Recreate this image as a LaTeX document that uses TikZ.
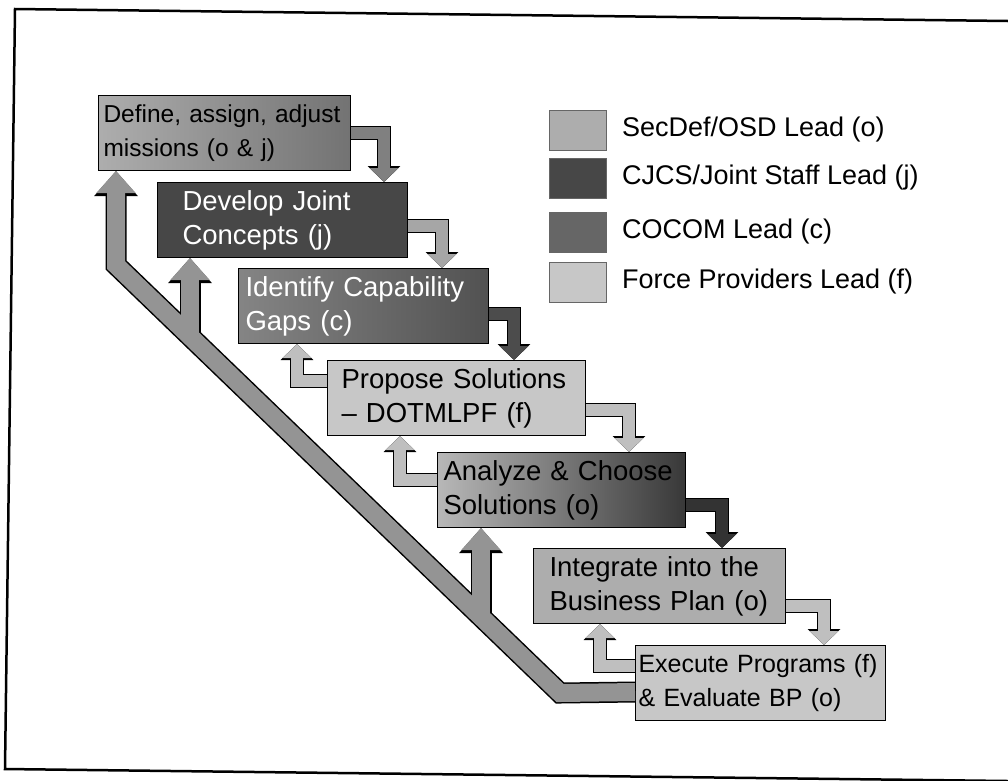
\documentclass[tikz,border=0pt]{standalone}
\usepackage{fontspec}
\setmainfont{Liberation Sans}
\usetikzlibrary{arrows.meta, positioning, calc}

\colorlet{osdgray}{black!32}
\colorlet{jsgray}{black!72}
\colorlet{cocomgray}{black!60}
\colorlet{fpgray}{black!22}

\newcommand{\stagefont}{\fontsize{27.5}{34}\selectfont}
\newcommand{\smallstagefont}{\fontsize{24.5}{34}\selectfont}
\newcommand{\midstagefont}{\fontsize{25}{34}\selectfont}
\newcommand{\keyfont}{\fontsize{27}{32}\selectfont}

\tikzset{
  stage/.style={draw=black, line width=1pt, anchor=north west, inner ysep=0pt,
    minimum height=75pt, align=left, font=\stagefont},
  swatch/.style={draw=black!60, line width=0.8pt, minimum width=57pt, minimum height=40pt},
  keylabel/.style={font=\keyfont, inner sep=0pt},
  flow/.style={draw=#1, line width=12pt, -{Triangle[width=28pt,length=14pt]},
    preaction={draw=black, line width=14.5pt, -{Triangle[width=32pt,length=16pt]}}},
  bandedge/.style={draw=black, line width=21pt, -{Triangle[width=42pt,length=25pt]}},
  bandfill/.style={draw=black!42, line width=18pt, -{Triangle[width=38pt,length=22pt]}},
}

\begin{document}
\begin{tikzpicture}[x=1pt, y=-1pt]
\useasboundingbox (0,0) rectangle (1008,780);

% frame of the scanned page
\draw[line width=2.5pt] (1008,21) -- (15,9) -- (5,769) -- (1008,781);

% stages
\node[stage, left color=osdgray, right color=black!55, text width=242pt, inner xsep=5pt,
  font=\smallstagefont] (define) at (98,95) {Define, assign, adjust\\missions (o \& j)};
\node[stage, fill=jsgray, text=white, text width=200pt, inner xsep=25pt]
  (develop) at (157,182) {Develop Joint\\Concepts (j)};
\node[stage, left color=black!48, right color=black!68, text=white, text width=236pt,
  inner xsep=7pt] (identify) at (238,268) {Identify Capability\\Gaps (c)};
\node[stage, fill=fpgray, text width=230pt, inner xsep=14pt]
  (propose) at (327,360) {Propose Solutions\\-- DOTMLPF (f)};
\node[stage, left color=black!28, right color=black!78, text width=236pt, inner xsep=6pt]
  (analyze) at (437,452) {Analyze \& Choose\\Solutions (o)};
\node[stage, fill=osdgray, text width=220pt, inner xsep=16pt]
  (integrate) at (533,548) {Integrate into the\\Business Plan (o)};
\node[stage, fill=fpgray, text width=244pt, inner xsep=3pt, font=\midstagefont]
  (execute) at (635,645) {Execute Programs (f)\\\& Evaluate BP (o)};

% legend
\node[swatch, fill=osdgray] (keyosd) at (578,130) {};
\node[keylabel, right=15pt of keyosd] (keyosdtext) {SecDef/OSD Lead (o)};
\node[swatch, fill=jsgray] (keyjs) at (578,178) {};
\node[keylabel, right=15pt of keyjs] (keyjstext) {CJCS/Joint Staff Lead (j)};
\node[swatch, fill=cocomgray] (keycocom) at (578,232) {};
\node[keylabel, right=15pt of keycocom] (keycocomtext) {COCOM Lead (c)};
\node[swatch, fill=fpgray] (keyfp) at (578,282) {};
\node[keylabel, right=15pt of keyfp] (keyfptext) {Force Providers Lead (f)};

% forward steps
\draw[flow=black!50] (define.east) -| ([xshift=-24pt]develop.north east);
\draw[flow=black!35] ([yshift=-6pt]develop.east) -| ([xshift=-47pt]identify.north east);
\draw[flow=black!70] ([yshift=-8pt]identify.east) -| ([xshift=-72pt]propose.north east);
\draw[flow=black!25] ([yshift=-12pt]propose.east) -| ([xshift=-57pt]analyze.north east);
\draw[flow=black!80] ([yshift=-15pt]analyze.east) -| ([xshift=-64pt]integrate.north east);
\draw[flow=black!25] ([yshift=-20pt]integrate.east) -| ([xshift=-62pt]execute.north east);

% short feedback steps
\draw[flow=black!25] ([yshift=17pt]propose.west) -| ([xshift=59pt]identify.south west);
\draw[flow=black!25] ([yshift=10pt]analyze.west) -| ([xshift=73pt]propose.south west);
\draw[flow=black!25] ([yshift=17pt]execute.west) -| ([xshift=67pt]integrate.south west);

% long feedback band
\coordinate (bend1) at (116,265);
\coordinate (bend2) at (560,693);
\coordinate (br1) at ($(bend1)!0.1667!(bend2)$);
\coordinate (br2) at ($(bend1)!0.8221!(bend2)$);
\foreach \st in {bandedge, bandfill} {
  \draw[\st] ([yshift=-9pt]execute.west) -- (bend2) -- (bend1) -- (bend1 |- define.south);
  \draw[\st] (br1) -- (br1 |- develop.south);
  \draw[\st] (br2) -- (br2 |- analyze.south);
}
\end{tikzpicture}
\end{document}
